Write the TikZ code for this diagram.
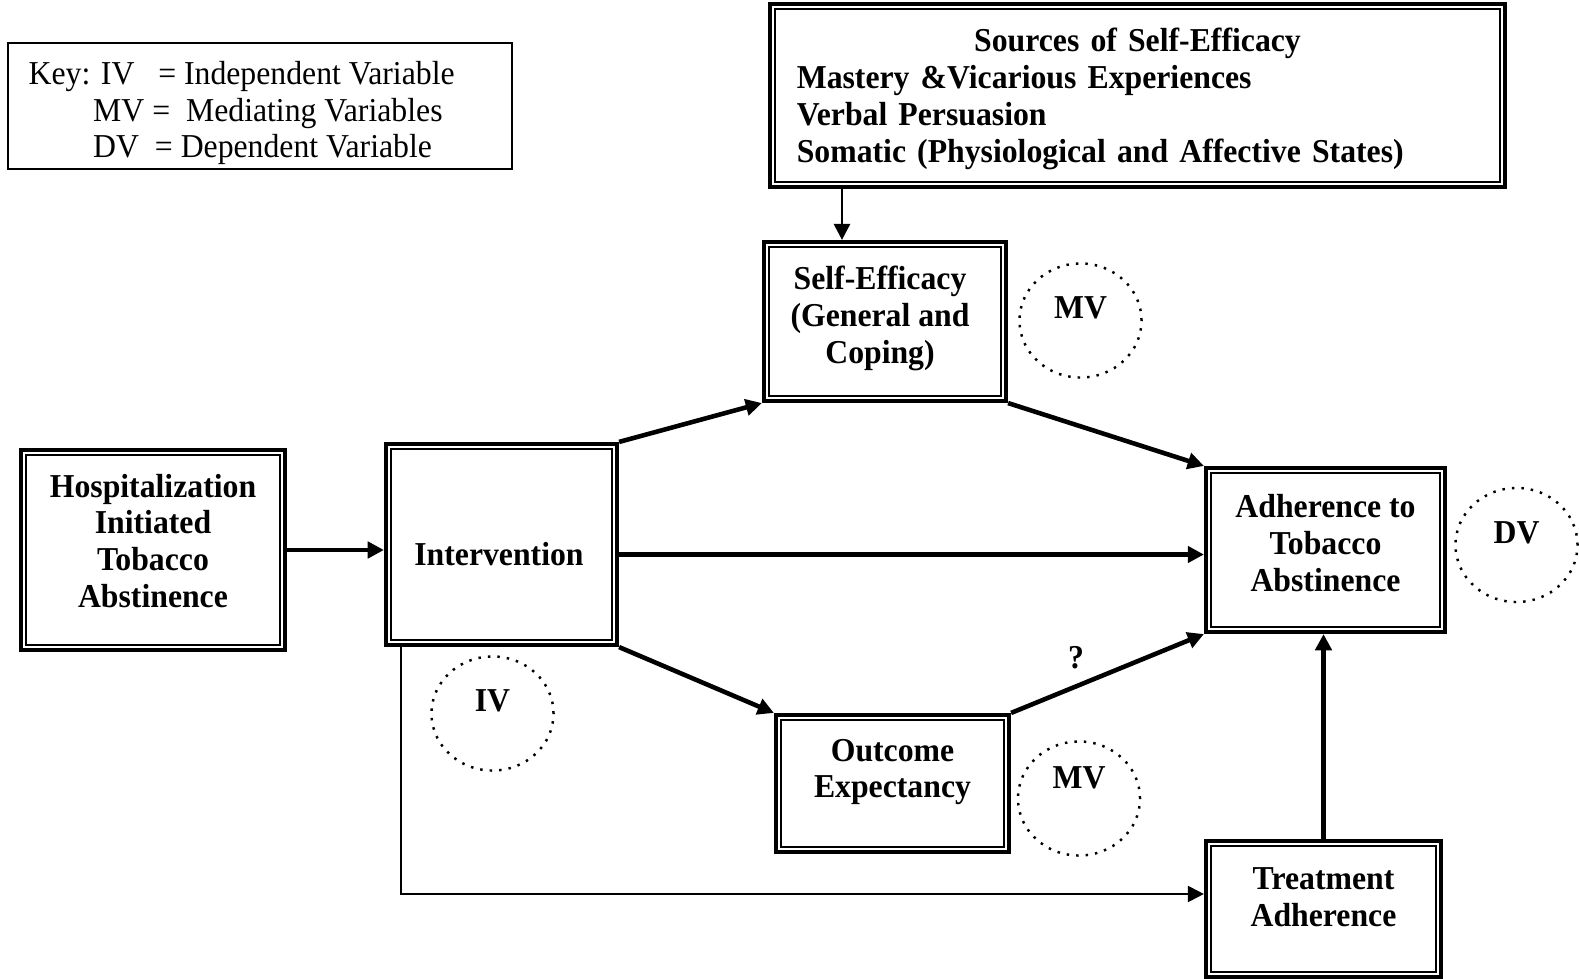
\documentclass[tikz,border=0pt]{standalone}
\usepackage{fontspec}
\setmainfont{Liberation Serif}[FakeStretch=0.95]
\usetikzlibrary{arrows.meta,shapes.geometric}

\tikzset{
  dbox/.style={draw, line width=1.15pt,
    path picture={\draw[line width=0.5pt]
      ([shift={(1.5pt,1.5pt)}]path picture bounding box.south west) rectangle
      ([shift={(-1.5pt,-1.5pt)}]path picture bounding box.north east);}},
  lbl/.style={align=center, font=\fontsize{9.5}{10.5}\selectfont\bfseries, inner sep=0pt},
  tag/.style={ellipse, draw, dotted, line width=0.7pt, minimum width=1.22cm, minimum height=1.14cm},
  arr/.style={->, line width=1.3pt},
  thinarr/.style={->, line width=0.6pt}
}

\begin{document}
\begin{tikzpicture}[x=0.01cm, y=-0.01cm, >={Triangle[length=4.6pt,width=4.6pt]},
  font=\fontsize{9.5}{10.5}\selectfont, line join=miter]
  \useasboundingbox (0,0) rectangle (1579,979);

  % key
  \node[draw, line width=0.6pt, minimum width=5.04cm, minimum height=1.26cm] (key) at (260,106) {};
  \node[anchor=west, align=left, inner sep=0pt] (keyT) at (28,113)
    {Key: IV\ \ \ = Independent Variable\\
     \hspace*{0.645cm}MV =\ \ Mediating Variables\\
     \hspace*{0.645cm}DV\ \ = Dependent Variable};

  % sources of self-efficacy
  \node[dbox, minimum width=7.35cm, minimum height=1.83cm] (sources) at (1137.5,95.5) {};
  \node[lbl, align=left, text width=6.81cm] (sourcesT) at (1137.5,99)
    {\hfill Sources of Self-Efficacy\hfill\mbox{}\\
     Mastery \&Vicarious Experiences\\
     Verbal Persuasion\\
     Somatic (Physiological and Affective States)};

  % boxes
  \node[dbox, minimum width=2.42cm, minimum height=1.59cm] (selfeff) at (885,321.5) {};
  \node[lbl] (selfeffT) at (880,318) {Self-Efficacy\\(General and\\Coping)};

  \node[dbox, minimum width=2.64cm, minimum height=2.0cm] (hosp) at (153,550) {};
  \node[lbl] (hospT) at (153,541) {Hospitalization\\Initiated\\Tobacco\\Abstinence};

  \node[dbox, minimum width=2.31cm, minimum height=2.01cm] (interv) at (501.5,544.5) {};
  \node[lbl] (intervT) at (499,554) {Intervention};

  \node[dbox, minimum width=2.33cm, minimum height=1.37cm] (outcome) at (892.5,783.5) {};
  \node[lbl] (outcomeT) at (892.5,772) {Outcome\\Expectancy};

  \node[dbox, minimum width=2.39cm, minimum height=1.64cm] (adher) at (1325.5,550) {};
  \node[lbl] (adherT) at (1325.5,543) {Adherence to\\Tobacco\\Abstinence};

  \node[dbox, minimum width=2.35cm, minimum height=1.36cm] (treat) at (1323.5,909) {};
  \node[lbl] (treatT) at (1323.5,897) {Treatment\\Adherence};

  % variable tags
  \node[tag] (mv1) at (1080.5,320.5) {};
  \node[lbl] (mv1T) at (1080.5,308) {MV};
  \node[tag] (mv2) at (1079,798.5) {};
  \node[lbl] (mv2T) at (1079,778) {MV};
  \node[tag] (iv) at (492.5,713.5) {};
  \node[lbl] (ivT) at (492.5,701) {IV};
  \node[tag] (dv) at (1516.5,545) {};
  \node[lbl] (dvT) at (1516.5,533) {DV};

  \node[lbl] (quest) at (1076,658) {?};

  % paths
  \draw[thinarr, line width=0.8pt] ([xshift=-0.43cm]selfeff.north |- sources.south) -- ([xshift=-0.43cm]selfeff.north);
  \draw[arr] (hosp.east) -- (hosp.east -| interv.west);
  \draw[arr] (interv.north east) -- (selfeff.south west);
  \draw[arr] ([yshift=-0.1cm]interv.east) -- ([yshift=-0.1cm]interv.east -| adher.west);
  \draw[arr] (interv.south east) -- (outcome.north west);
  \draw[arr] (selfeff.south east) -- (adher.north west);
  \draw[arr] (outcome.north east) -- (adher.south west);
  \draw[arr] (treat.north) -- (treat.north |- adher.south);
  \draw[thinarr] ([xshift=0.17cm]interv.south west) |- ([yshift=0.15cm]treat.west);
\end{tikzpicture}
\end{document}
